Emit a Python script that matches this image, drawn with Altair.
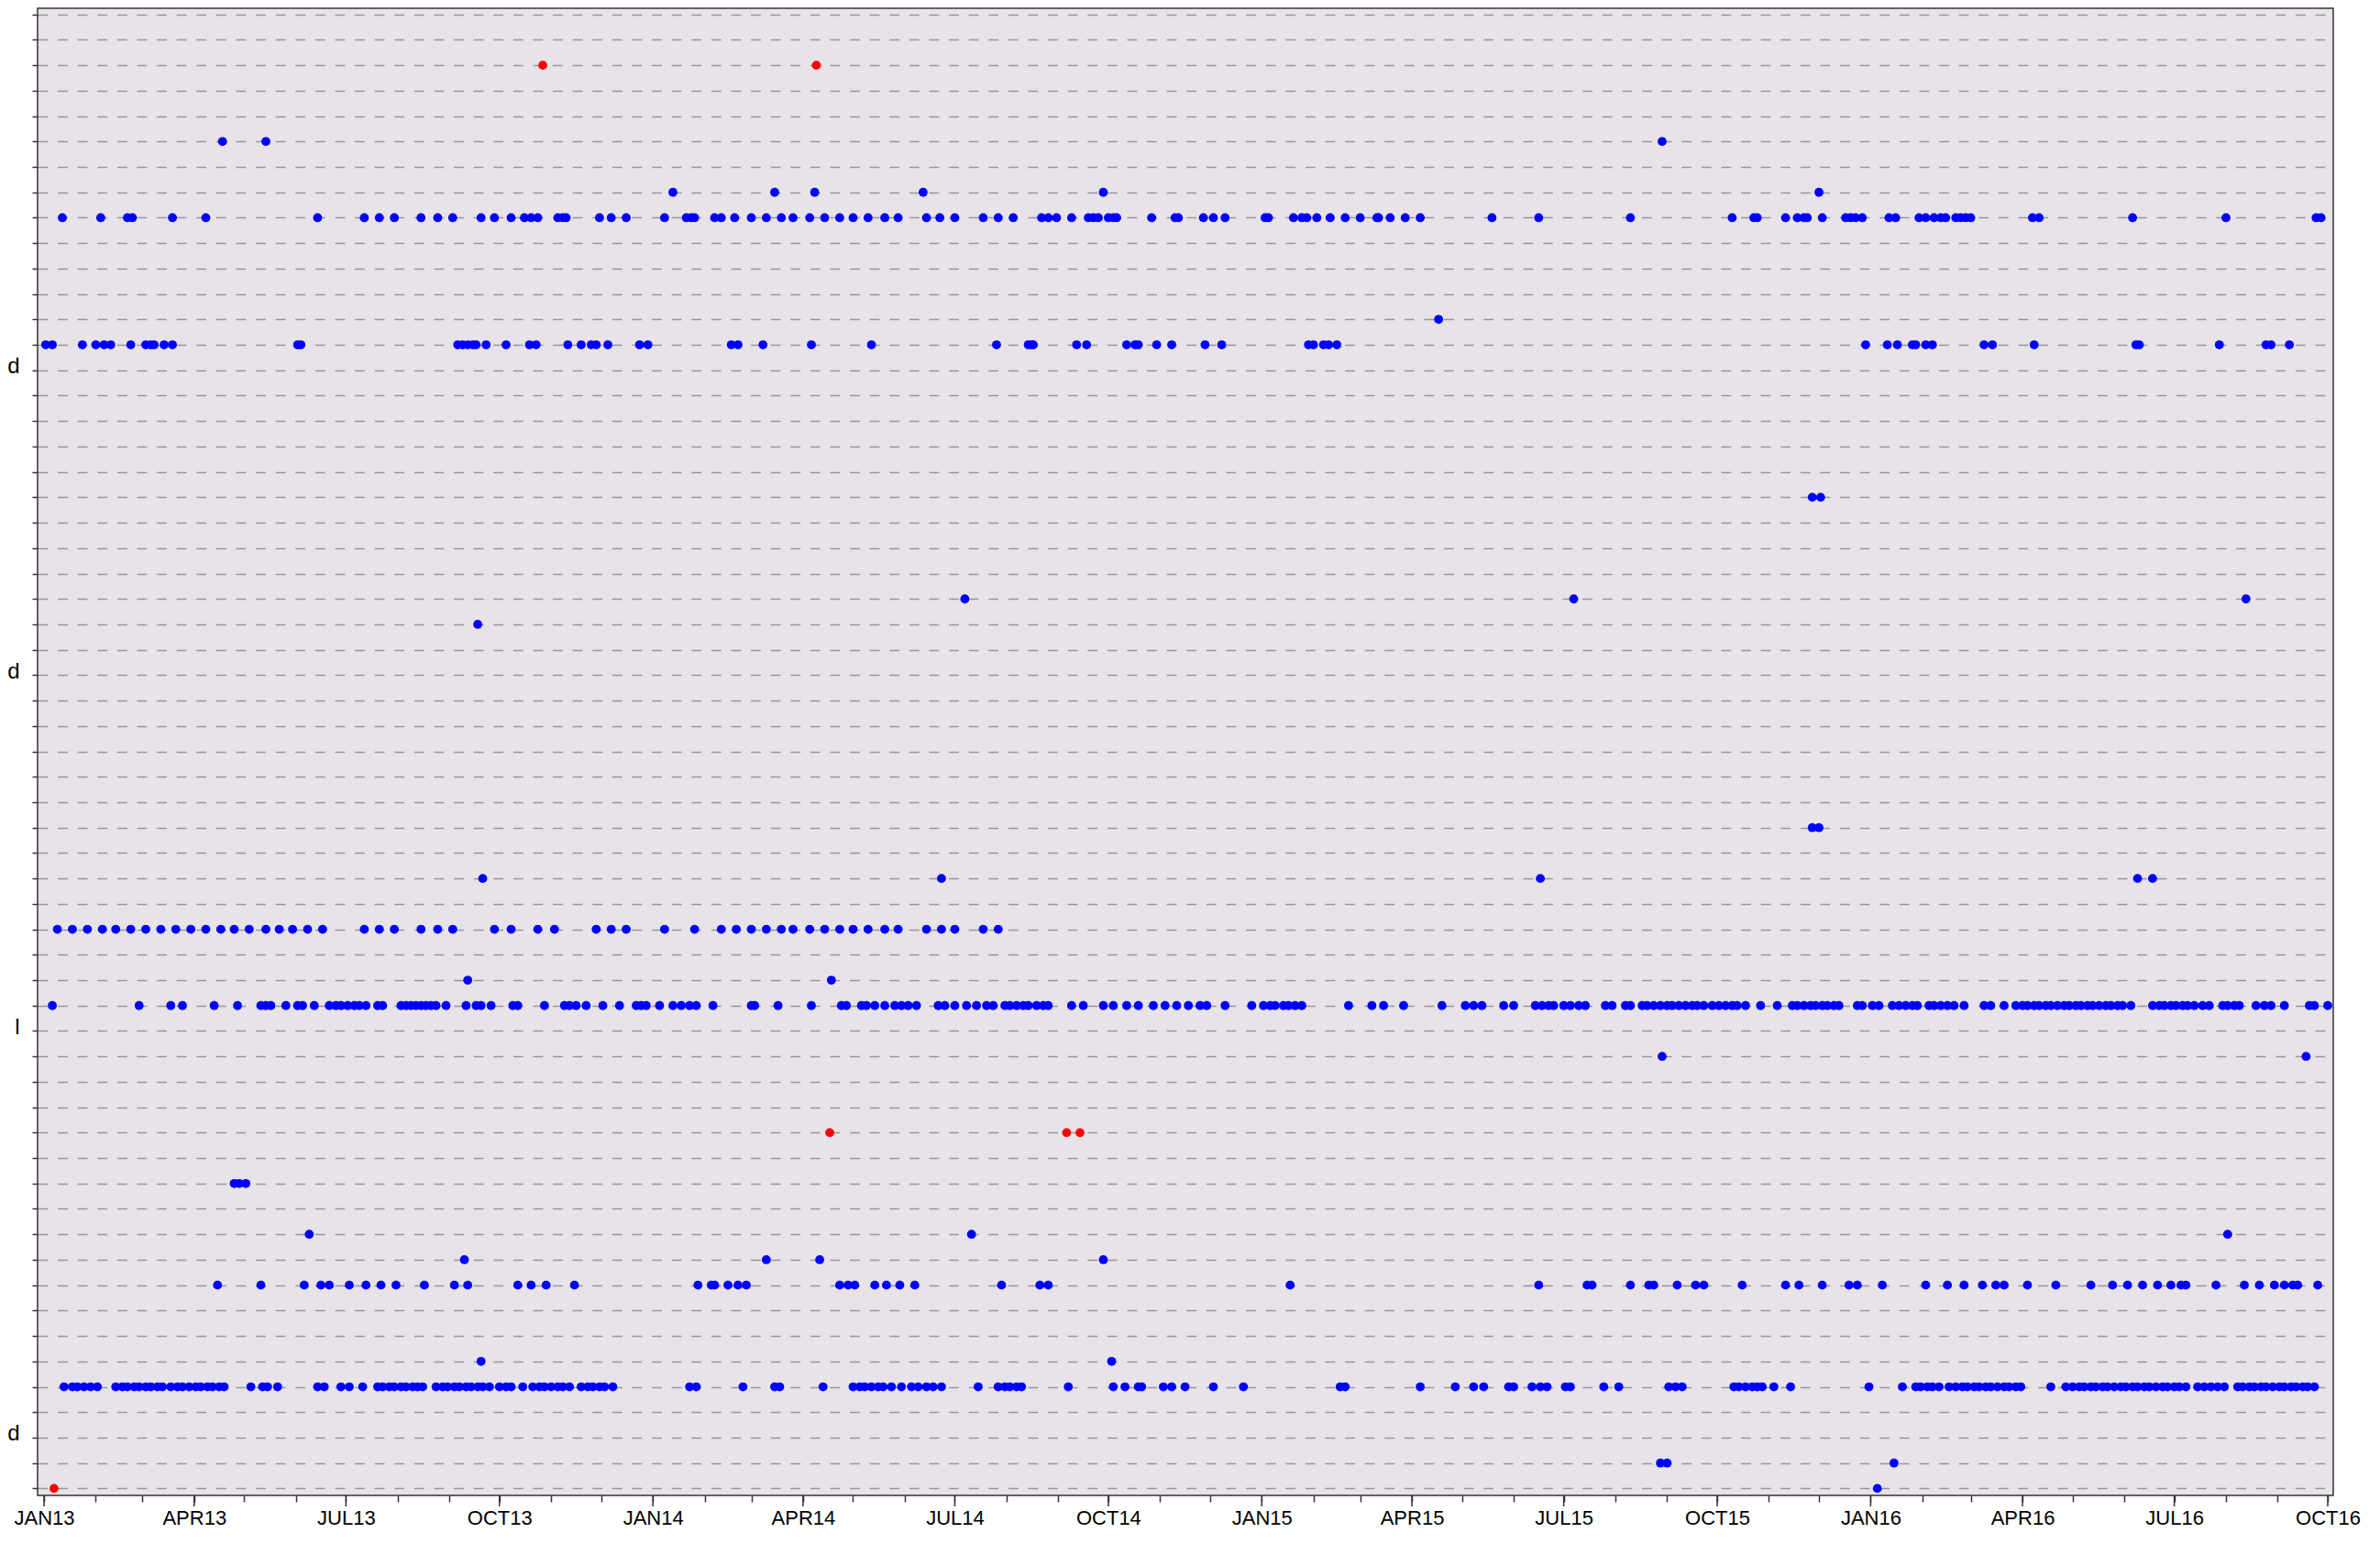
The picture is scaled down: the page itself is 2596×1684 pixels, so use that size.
import altair as alt
import pandas as pd

BASE = "2013-01-01"  # day offsets below are days since this date

# ---- categories (rows, 0 = top row, 58 = bottom row) ----
row_count = 59
label_rows = [14, 26, 40, 56]
label_texts = ["d", "d", "l", "d"]

# ---- x-axis labels ----
quarter_labels = ["JAN13", "APR13", "JUL13", "OCT13", "JAN14", "APR14", "JUL14", "OCT14",
                  "JAN15", "APR15", "JUL15", "OCT15", "JAN16", "APR16", "JUL16", "OCT16"]

# ---- series: day offsets per row ----
r02_red = [299, 463]
r05 = [107, 133, 970]
r07 = [377, 438, 462, 527, 635, 1064]
r08 = [11, 34, 50, 53, 77, 97, 164, 192, 201, 210, 226, 236, 245, 262, 270, 280, 288, 292, 296,
       308, 311, 313, 333, 340, 349, 372, 385, 388, 390, 402, 406, 414, 424, 433, 442, 449, 459,
       468, 477, 485, 494, 504, 512, 529, 537, 546, 563, 572, 581, 598, 602, 607, 616, 626, 629,
       632, 638, 641, 643, 664, 678, 680, 695, 701, 708, 732, 734, 749, 754, 757, 763, 771, 780,
       789, 799, 800, 807, 816, 825, 868, 896, 951, 1012, 1025, 1027, 1044, 1051, 1055, 1057,
       1066, 1080, 1083, 1086, 1090, 1106, 1110, 1124, 1128, 1133, 1137, 1140, 1146, 1149, 1152,
       1155, 1192, 1196, 1252, 1308, 1362, 1365]
r12 = [836]
r13 = [1, 5, 23, 31, 36, 40, 52, 61, 64, 66, 72, 77, 152, 154, 248, 251, 254, 257, 259, 265, 277,
       291, 295, 314, 322, 328, 331, 338, 357, 362, 412, 416, 431, 460, 496, 571, 590, 592, 593,
       619, 625, 649, 654, 656, 667, 676, 696, 706, 758, 761, 767, 770, 775, 1092, 1105, 1111,
       1120, 1122, 1128, 1132, 1163, 1168, 1193, 1254, 1256, 1304, 1332, 1335, 1346]
r19 = [1060, 1065]
r23 = [552, 917, 1320]
r24 = [260]
r32 = [1060, 1064]
r34 = [263, 538, 897, 1255, 1264]
r36 = [8, 17, 26, 35, 43, 52, 61, 70, 79, 88, 97, 106, 114, 123, 133, 141, 149, 158, 167, 192,
       201, 210, 226, 236, 245, 270, 280, 296, 306, 331, 340, 349, 372, 390, 406, 415, 424, 433,
       442, 449, 459, 468, 477, 485, 494, 504, 512, 529, 538, 546, 563, 572]
r38 = [254, 472]
r39 = [5, 57, 76, 83, 102, 116, 130, 133, 136, 145, 152, 155, 162, 171, 175, 178, 182, 186, 189,
       193, 200, 203, 214, 217, 220, 223, 226, 229, 232, 235, 241, 253, 259, 262, 268, 281, 284,
       300, 312, 315, 319, 325, 335, 345, 355, 358, 361, 369, 377, 382, 387, 391, 401, 424, 426,
       440, 460, 478, 481, 490, 493, 498, 504, 510, 514, 518, 523, 536, 540, 546, 553, 559, 565,
       569, 576, 579, 583, 587, 590, 595, 599, 602, 616, 623, 635, 641, 649, 656, 665, 672, 679,
       686, 693, 697, 708, 724, 731, 735, 738, 743, 746, 750, 754, 782, 796, 803, 815, 838, 852,
       857, 862, 875, 881, 894, 898, 902, 905, 911, 915, 920, 924, 936, 940, 948, 951, 958, 961,
       965, 969, 973, 976, 980, 984, 988, 991, 995, 1000, 1004, 1008, 1012, 1015, 1020, 1029,
       1039, 1048, 1051, 1055, 1059, 1062, 1066, 1069, 1073, 1076, 1087, 1090, 1096, 1100, 1108,
       1112, 1116, 1120, 1123, 1130, 1133, 1137, 1141, 1145, 1151, 1163, 1167, 1175, 1182, 1186,
       1189, 1193, 1196, 1200, 1203, 1207, 1211, 1214, 1218, 1221, 1225, 1228, 1232, 1236, 1239,
       1243, 1246, 1251, 1264, 1268, 1271, 1275, 1278, 1282, 1285, 1289, 1294, 1298, 1306, 1309,
       1313, 1316, 1326, 1331, 1335, 1343, 1358, 1361, 1369]
r41 = [970, 1356]
r44_red = [471, 613, 621]
r46 = [114, 117, 121]
r48 = [159, 556, 1309]
r49 = [252, 433, 465, 635]
r50 = [104, 130, 156, 166, 171, 183, 193, 202, 211, 228, 246, 254, 284, 292, 301, 318, 392, 400,
       402, 410, 416, 421, 477, 482, 486, 498, 505, 513, 522, 574, 597, 602, 747, 896, 925, 928,
       951, 962, 965, 979, 990, 995, 1018, 1044, 1052, 1066, 1082, 1087, 1102, 1128, 1141, 1151,
       1162, 1170, 1175, 1189, 1206, 1227, 1240, 1249, 1258, 1267, 1275, 1281, 1284, 1302, 1319,
       1328, 1337, 1343, 1348, 1351, 1363]
r53 = [262, 640]
r54 = [12, 17, 20, 24, 28, 32, 43, 47, 50, 54, 57, 61, 64, 68, 71, 76, 80, 83, 87, 91, 94, 98,
       101, 105, 108, 124, 131, 134, 140, 164, 168, 178, 183, 191, 200, 203, 207, 210, 214, 217,
       221, 224, 227, 235, 239, 242, 246, 249, 253, 256, 260, 263, 267, 273, 277, 280, 287, 293,
       297, 300, 304, 308, 311, 315, 322, 326, 329, 333, 336, 341, 387, 391, 419, 438, 441, 467,
       485, 489, 492, 496, 500, 503, 508, 514, 520, 524, 529, 533, 538, 560, 572, 576, 579, 583,
       586, 614, 641, 648, 656, 658, 671, 676, 684, 701, 719, 777, 780, 825, 846, 857, 863, 878,
       881, 892, 897, 901, 912, 915, 935, 944, 974, 978, 982, 1013, 1016, 1020, 1024, 1027, 1030,
       1037, 1047, 1094, 1114, 1122, 1125, 1129, 1132, 1136, 1142, 1146, 1150, 1153, 1157, 1160,
       1164, 1167, 1171, 1175, 1178, 1182, 1185, 1203, 1212, 1216, 1220, 1223, 1227, 1230, 1234,
       1237, 1241, 1245, 1248, 1252, 1255, 1259, 1262, 1266, 1270, 1273, 1277, 1280, 1284, 1291,
       1295, 1299, 1303, 1307, 1315, 1318, 1322, 1325, 1329, 1332, 1336, 1340, 1343, 1347, 1350,
       1354, 1357, 1361]
r57 = [969, 973, 1109]
r58 = [1099]
r58_red = [6]

series = [
    (5, "blue", r05), (7, "blue", r07), (8, "blue", r08), (12, "blue", r12), (13, "blue", r13),
    (19, "blue", r19), (23, "blue", r23), (24, "blue", r24), (32, "blue", r32), (34, "blue", r34),
    (36, "blue", r36), (38, "blue", r38), (39, "blue", r39), (41, "blue", r41), (46, "blue", r46),
    (48, "blue", r48), (49, "blue", r49), (50, "blue", r50), (53, "blue", r53), (54, "blue", r54),
    (57, "blue", r57), (58, "blue", r58),
    (2, "red", r02_red), (44, "red", r44_red), (58, "red", r58_red),
]

base = pd.Timestamp(BASE)
records = []
for row, kind, days in series:
    for d in days:
        records.append({"row": row, "kind": kind,
                        "date": (base + pd.Timedelta(days=d)).strftime("%Y-%m-%d")})
df = pd.DataFrame(records)

major_df = pd.DataFrame({"date": [pd.to_datetime("01" + s, format="%d%b%y").strftime("%Y-%m-%d")
                                  for s in quarter_labels]})
month_ticks = [int(t.value // 10**6) for t in
               pd.date_range("2013-01-01", "2016-10-01", freq="MS", tz="UTC")]

day_ms = 86400000
base_ms = int(pd.Timestamp(BASE, tz="UTC").value // 10**6)
x_domain = [base_ms - int(3.85 * day_ms), base_ms + int(1372.3 * day_ms)]

PLOT_W = 2504
PLOT_H = 1622

x_enc = alt.X(
    "date:T",
    scale=alt.Scale(type="utc", domain=x_domain, nice=False),
    axis=alt.Axis(
        values=month_ticks,
        labelExpr="utcmonth(datum.value) % 3 == 0 ? upper(utcFormat(datum.value, '%b%y')) : ''",
        grid=False, domain=False,
        tickSize=7, tickWidth=1.5, tickColor="#333333",
        labelFont="Liberation Sans", labelFontSize=22, labelColor="#000000",
        labelBaseline="alphabetic", labelPadding=24,
        labelFlush=False, labelOverlap=False, title=None,
    ),
)

y_label_expr = " : ".join(
    f"datum.value == {r} ? '{t}'" for r, t in zip(label_rows, label_texts)
) + " : ''"

y_enc = alt.Y(
    "row:Q",
    scale=alt.Scale(domain=[-0.242, 58.274], reverse=True, nice=False, zero=False),
    axis=alt.Axis(
        values=list(range(row_count)),
        labelExpr=y_label_expr,
        grid=True, gridDash=[10.8, 10.8], gridColor="#979797", gridWidth=1.6,
        domain=False,
        tickSize=6, tickWidth=1.5, tickColor="#333333",
        labelFont="Liberation Sans", labelFontSize=24, labelColor="#000000",
        labelPadding=14, labelOffset=-4, labelOverlap=False, title=None,
    ),
)

points = alt.Chart(df).mark_circle(size=96, opacity=1).encode(
    x=x_enc,
    y=y_enc,
    color=alt.Color("kind:N",
                    scale=alt.Scale(domain=["blue", "red"], range=["#0000ff", "#ff0000"]),
                    legend=None),
)

major_ticks = alt.Chart(major_df).mark_rule(color="#333333", strokeWidth=1.5).encode(
    x=x_enc,
    y=alt.value(PLOT_H),
    y2=alt.value(PLOT_H + 12),
)

chart = alt.layer(major_ticks, points).properties(
    width=PLOT_W,
    height=PLOT_H,
    autosize=alt.AutoSizeParams(type="none"),
    padding={"left": 33, "top": 1, "right": 34, "bottom": 37},
).configure_view(
    fill="#E7E3E8", stroke="#333333", strokeWidth=1.5
)

chart.save("out.html", embed_options={"renderer": "svg", "actions": False})
